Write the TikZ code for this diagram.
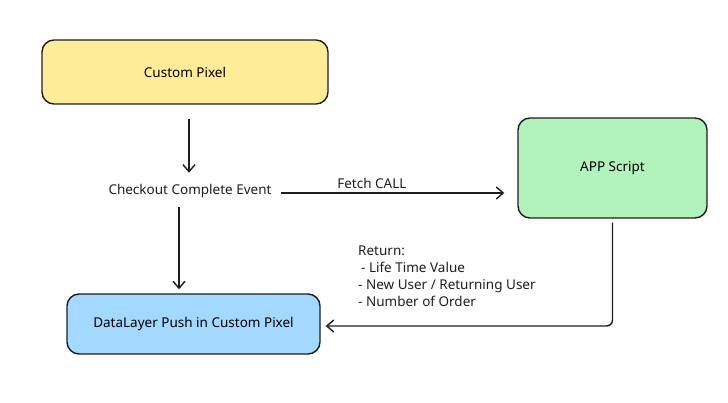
\documentclass[tikz,border=0pt]{standalone}
\usepackage{fontspec}
\setmainfont{Noto Sans}
\usetikzlibrary{arrows.meta}

\definecolor{pixelfill}{HTML}{FFEC99}
\definecolor{scriptfill}{HTML}{B2F2BB}
\definecolor{pushfill}{HTML}{A5D8FF}
\definecolor{inkline}{HTML}{1E1E1E}

\begin{document}
\begin{tikzpicture}[x=1pt, y=-1pt,
    box/.style ={draw=inkline, line width=1.4pt, rounded corners=12pt,
                 font=\fontsize{13.5}{16.5}\selectfont},
    plain/.style ={font=\fontsize{13.5}{16.5}\selectfont, text=inkline},
    arr/.style ={draw=inkline, line width=1.4pt,
                 -{Straight Barb[length=7pt, width=12pt, line width=1.4pt]}}]
   \useasboundingbox (0,0) rectangle (728,403);

   \node[box, fill=pixelfill, minimum width=286pt, minimum height=64pt] (pixel) at (185,72) {Custom Pixel};
   \node[box, fill=scriptfill, minimum width=189pt, minimum height=100pt] (app) at (612.5,168) {APP Script};
   \node[box, fill=pushfill, minimum width=253pt, minimum height=60pt] (push) at (193.5,324) {DataLayer Push in Custom Pixel};
   \node[plain] (event) at (190,191) {Checkout Complete Event};
   \node[plain, font=\fontsize{13.5}{17}\selectfont, anchor=north west, align=left, inner sep=0pt] (ret) at (358,246)
      {Return:\\ \hspace{3pt}- Life Time Value\\- New User / Returning User\\- Number of Order};

   \draw[arr, shorten <=14pt, shorten >=8pt] ([xshift=4pt]pixel.south) -- ([xshift=-1pt]event.north);
   \draw[arr, shorten <=6pt, shorten >=13pt] ([yshift=-2pt]event.east) -- node[plain, above, pos=0.4] {Fetch CALL} ([yshift=-2pt]event.east -| app.west);
   \draw[arr, shorten <=6pt, shorten >=4pt] ([xshift=-11pt]event.south) -- ([xshift=-11pt]event.south |- push.north);
   \draw[arr, rounded corners=6pt, shorten <=4pt, shorten >=5pt] (app.south) |- ([yshift=-2pt]push.east);
 \end{tikzpicture}
\end{document}
